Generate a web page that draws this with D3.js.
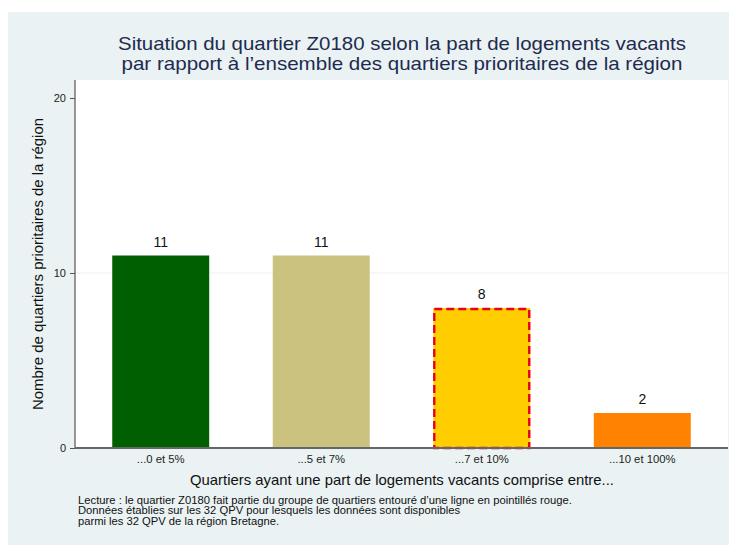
<!DOCTYPE html>
<html><head><meta charset="utf-8">
<script src="https://cdn.jsdelivr.net/npm/d3@7"></script>
<style>body{margin:0;background:#fff;}svg{display:block;font-family:"Liberation Sans",Arial,sans-serif;}</style>
</head><body>
<svg id="c" width="736" height="545"></svg>
<script>
const categories = ["...0 et 5%", "...5 et 7%", "...7 et 10%", "...10 et 100%"];
const values = [11, 11, 8, 2];
const colors = ["#005f00", "#cbc27f", "#ffcd00", "#ff8200"];
const highlighted = [false, false, true, false];
const yTicks = [0, 10, 20];
const titleLines = ["Situation du quartier Z0180 selon la part de logements vacants", "par rapport à l’ensemble des quartiers prioritaires de la région"];
const yTitle = "Nombre de quartiers prioritaires de la région";
const xTitle = "Quartiers ayant une part de logements vacants comprise entre...";
const notes = ["Lecture : le quartier Z0180 fait partie du groupe de quartiers entouré d’une ligne en pointillés rouge.", "Données établies sur les 32 QPV pour lesquels les données sont disponibles", "parmi les 32 QPV de la région Bretagne."];

const svg = d3.select("#c");
svg.append("rect").attr("x",8).attr("y",12).attr("width",721).attr("height",533).attr("fill","#eaf2f3");
const L=75,R=728,T=80,B=448;
svg.append("rect").attr("x",L).attr("y",T).attr("width",R-L).attr("height",B-T).attr("fill","#fff");
const x = d3.scaleBand().domain(categories).range([L,R]).paddingInner(0.396).paddingOuter(0.232);
const y = d3.scaleLinear().domain([0,20]).range([B,98]);

svg.append("g").selectAll("line").data([10]).join("line")
  .attr("x1",L).attr("x2",R).attr("y1",d=>y(d)).attr("y2",d=>y(d))
  .attr("stroke","#eaf2f3").attr("stroke-width",1.2);

svg.append("g").selectAll("rect").data(values).join("rect")
  .attr("x",(d,i)=>x(categories[i])).attr("width",x.bandwidth())
  .attr("y",d=>y(d)).attr("height",d=>B-y(d)).attr("fill",(d,i)=>colors[i]);
svg.append("g").selectAll("rect").data(values.map((v,i)=>({v,i})).filter(d=>highlighted[d.i])).join("rect")
  .attr("x",d=>x(categories[d.i])+1).attr("width",x.bandwidth()-2)
  .attr("y",d=>y(d.v)+1).attr("height",d=>B-y(d.v)-1).attr("fill","none")
  .attr("stroke","#e8001c").attr("stroke-width",2.4).attr("stroke-dasharray","8,4");

svg.append("g").selectAll("text").data(values).join("text")
  .attr("x",(d,i)=>x(categories[i])+x.bandwidth()/2).attr("y",d=>y(d)-9)
  .attr("text-anchor","middle").attr("font-size",14).attr("fill","#111").text(d=>d);

const ya = svg.append("g").attr("transform",`translate(${L},0)`)
  .call(d3.axisLeft(y).tickValues(yTicks).tickSize(5).tickPadding(4));
ya.select(".domain").attr("stroke","#555").attr("stroke-width",1.2).attr("d",`M0,${T}V${B}`);
ya.selectAll(".tick line").attr("stroke","#555");
ya.selectAll(".tick text").attr("font-size",11).attr("fill","#222").attr("font-family","Liberation Sans, Arial, sans-serif");

const xa = svg.append("g").attr("transform",`translate(0,${B})`)
  .call(d3.axisBottom(x).tickSize(0).tickPadding(7));
xa.select(".domain").attr("stroke","#666").attr("stroke-width",2).attr("d",`M${L},0H${R}`);
xa.selectAll(".tick text").attr("font-size",11.3).attr("fill","#222").attr("font-family","Liberation Sans, Arial, sans-serif");

const titleLen = [568, 561];
svg.append("g").selectAll("text").data(titleLines).join("text")
  .attr("x",402).attr("y",(d,i)=>50+i*20).attr("text-anchor","middle")
  .attr("font-size",19).attr("fill","#1e2b4f")
  .attr("textLength",(d,i)=>titleLen[i]).attr("lengthAdjust","spacingAndGlyphs").text(d=>d);
svg.append("text").attr("transform","translate(43,264) rotate(-90)").attr("text-anchor","middle")
  .attr("font-size",14.2).attr("fill","#111")
  .attr("textLength",292).attr("lengthAdjust","spacingAndGlyphs").text(yTitle);
svg.append("text").attr("x",402).attr("y",485).attr("text-anchor","middle")
  .attr("font-size",14.2).attr("fill","#111")
  .attr("textLength",424).attr("lengthAdjust","spacingAndGlyphs").text(xTitle);
const noteLen = [494, 382, 201];
svg.append("g").selectAll("text").data(notes).join("text")
  .attr("x",78).attr("y",(d,i)=>503.5+i*10.7).attr("font-size",10).attr("fill","#111")
  .attr("textLength",(d,i)=>noteLen[i]).attr("lengthAdjust","spacingAndGlyphs").text(d=>d);
</script>
</body></html>
